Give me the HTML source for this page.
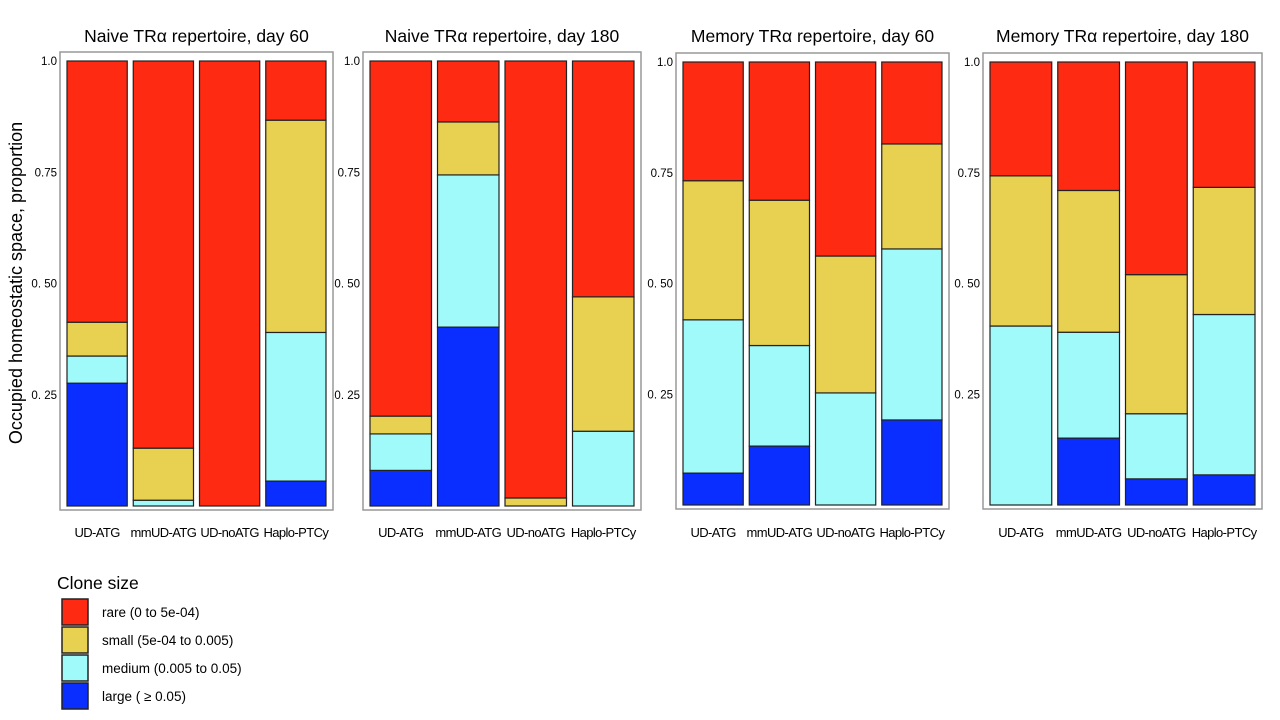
<!DOCTYPE html>
<html><head><meta charset="utf-8"><style>
body{margin:0;background:#fff;width:1280px;height:715px;overflow:hidden;font-family:"Liberation Sans",sans-serif}
</style></head><body>
<svg id="chart" width="1280" height="715" xmlns="http://www.w3.org/2000/svg" font-family="Liberation Sans, sans-serif">
<text x="22" y="283" font-size="18" text-anchor="middle" transform="rotate(-90 22 283)">Occupied homeostatic space, proportion</text>
<g>
<text x="57" y="589" font-size="17.5">Clone size</text>
<rect x="62" y="599" width="26" height="26" fill="#FF2A12" stroke="#222" stroke-width="1.5"/>
<text x="102" y="617" font-size="13.5">rare (0 to 5e-04)</text>
<rect x="62" y="627" width="26" height="26" fill="#E8D050" stroke="#222" stroke-width="1.5"/>
<text x="102" y="645" font-size="13.5">small (5e-04 to 0.005)</text>
<rect x="62" y="655" width="26" height="26" fill="#A0FAFA" stroke="#222" stroke-width="1.5"/>
<text x="102" y="673" font-size="13.5">medium (0.005 to 0.05)</text>
<rect x="62" y="683" width="26" height="26" fill="#0A2EFF" stroke="#222" stroke-width="1.5"/>
<text x="102" y="701" font-size="13.5">large ( ≥ 0.05)</text>
</g>
</svg>
<script>
const categories = ["UD-ATG","mmUD-ATG","UD-noATG","Haplo-PTCy"];
const panelTitles = ["Naive TRα repertoire, day 60","Naive TRα repertoire, day 180","Memory TRα repertoire, day 60","Memory TRα repertoire, day 180"];
const tickValues = [1.0,0.75,0.5,0.25];
const tickLabels = ["1.0","0.75","0. 50","0. 25"];
// per panel, per category: proportions [large, medium, small, rare]
const largeVals = [[0.276,0,0,0.056],[0.080,0.402,0,0],[0.072,0.133,0,0.192],[0,0.151,0.059,0.068]];
const mediumVals = [[0.061,0.013,0,0.334],[0.082,0.342,0,0.168],[0.346,0.227,0.253,0.386],[0.404,0.239,0.147,0.362]];
const smallVals = [[0.076,0.117,0,0.477],[0.040,0.119,0.018,0.302],[0.314,0.328,0.309,0.237],[0.339,0.320,0.314,0.287]];
const rareVals = [[0.587,0.870,1,0.133],[0.798,0.137,0.982,0.530],[0.268,0.312,0.438,0.185],[0.257,0.290,0.480,0.283]];
const colors = {large:"#0A2EFF",medium:"#A0FAFA",small:"#E8D050",rare:"#FF2A12"};
const panels = [{l:60,r:333,y1:61,y0:506},{l:363,r:641,y1:61,y0:506},{l:676,r:949,y1:62,y0:505},{l:983,r:1262,y1:62,y0:505}];
const svg = document.getElementById('chart');
const NS = "http://www.w3.org/2000/svg";
function mk(t,a){const e=document.createElementNS(NS,t);for(const k in a)e.setAttribute(k,a[k]);svg.appendChild(e);return e;}
panels.forEach((p,pi)=>{
  const y = v => p.y0 - v*(p.y0-p.y1);
  const bw = (p.r-p.l-8)/4;
  const x = i => p.l+4+i*bw;
  const fr = mk('rect',{x:p.l,y:p.y1-9,width:p.r-p.l,height:(p.y0+4)-(p.y1-9),fill:'none',stroke:'#999','stroke-width':1.5});
  
  
  const t = mk('text',{x:(p.l+p.r)/2,y:42,'font-size':17.5,'text-anchor':'middle'});
  t.textContent = panelTitles[pi];
  
  
  tickValues.forEach((v,k)=>{
    const tl = mk('text',{x:p.l-3,y:y(v)+4,'font-size':11.5,'text-anchor':'end'});
    tl.textContent = tickLabels[k];
    
    
  });
  categories.forEach((c,i)=>{
    const segs = [["large",largeVals[pi][i]],["medium",mediumVals[pi][i]],["small",smallVals[pi][i]],["rare",rareVals[pi][i]]];
    let acc = 0;
    segs.forEach(([name,v])=>{
      if(v<=0) return;
      const r = mk('rect',{x:x(i)+3,y:y(acc+v),width:bw-6,height:y(acc)-y(acc+v),fill:colors[name],stroke:'#222','stroke-width':1.2});
      
      
      acc += v;
    });
    const cl = mk('text',{x:x(i)+bw/2,y:537,'font-size':13,'text-anchor':'middle','letter-spacing':'-0.6'});
    cl.textContent = c;
    
    
  });
});
</script>
</body></html>
